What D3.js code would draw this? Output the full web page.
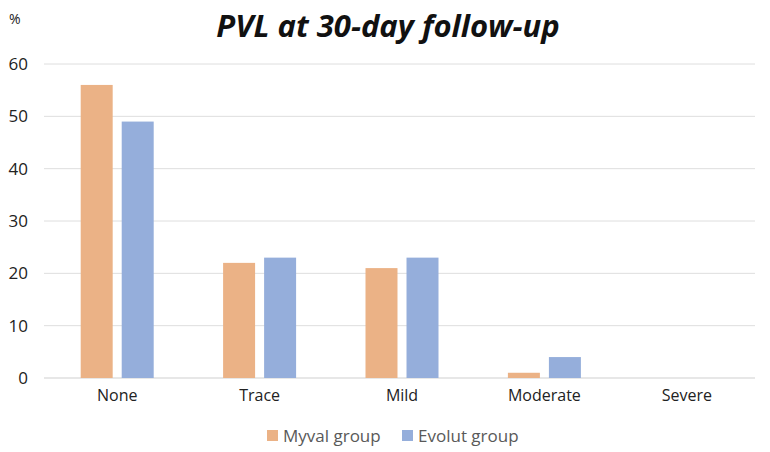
<!DOCTYPE html>
<html lang="en">
<head>
<meta charset="utf-8" />
<title>PVL at 30-day follow-up</title>
<script src="https://cdn.jsdelivr.net/npm/d3@7"></script>
<style>
    body { margin: 0; background: #fff; }
    svg text { font-family: "Open Sans", "Noto Sans", sans-serif; }
    .y-axis path, .y-axis line, .x-axis path, .x-axis line { stroke: none; }
    .y-axis text { font-size: 17px; fill: #222; }
    .x-axis text { font-size: 16px; fill: #222; }
</style>
</head>
<body>
<script>
    let categories = ['None', 'Trace', 'Mild', 'Moderate', 'Severe'];
    let series = ['Myval group', 'Evolut group'];
    let myval = [56, 22, 21, 1, 0];
    let evolut = [49, 23, 23, 4, 0];
    let yTicks = [0, 10, 20, 30, 40, 50, 60];
    let colors = ['#ebb286', '#95aedb'];

    let width = 770, height = 452;
    let margin = { top: 64, bottom: 74, left: 46, right: 12 };

    let svg = d3.select('body').append('svg')
        .attr('width', width)
        .attr('height', height);

    let x0 = d3.scaleBand()
        .domain(categories)
        .range([margin.left, width - margin.right]);

    let x1 = d3.scaleBand()
        .domain(series)
        .range([-36.5, 36.5])
        .paddingInner(0.22);

    let y = d3.scaleLinear()
        .domain([0, 60])
        .range([height - margin.bottom, margin.top]);

    // gridlines
    svg.append('g')
        .selectAll('line')
        .data(yTicks)
        .enter().append('line')
        .attr('x1', margin.left - 2)
        .attr('x2', width - margin.right - 3)
        .attr('y1', d => y(d))
        .attr('y2', d => y(d))
        .style('stroke', d => d === 0 ? '#cfcfcf' : '#dedede')
        .style('stroke-width', 1);

    svg.append('g')
        .attr('class', 'y-axis')
        .attr('transform', `translate(${margin.left - 18},0)`)
        .call(d3.axisLeft(y).tickValues(yTicks).tickSize(0).tickPadding(0));

    svg.append('g')
        .attr('class', 'x-axis')
        .attr('transform', `translate(0,${height - margin.bottom})`)
        .call(d3.axisBottom(x0).tickSize(0).tickPadding(12));

    // bars
    let values = [myval, evolut];
    let group = svg.selectAll('.cat')
        .data(categories)
        .enter().append('g')
        .attr('class', 'cat')
        .attr('transform', d => `translate(${x0(d) + x0.bandwidth() / 2},0)`);

    group.selectAll('rect')
        .data((d, i) => series.map((s, j) => ({ s: s, v: values[j][i], j: j })))
        .enter().append('rect')
        .attr('x', d => x1(d.s))
        .attr('width', x1.bandwidth())
        .attr('y', d => y(d.v))
        .attr('height', d => y(0) - y(d.v))
        .style('fill', d => colors[d.j]);

    // title and unit
    svg.append('text')
        .attr('x', 388)
        .attr('y', 37)
        .attr('text-anchor', 'middle')
        .style('font-size', '31px')
        .style('font-weight', 'bold')
        .style('font-style', 'italic')
        .style('fill', '#111')
        .text('PVL at 30-day follow-up');

    svg.append('text')
        .attr('x', 9)
        .attr('y', 24)
        .style('font-size', '14px')
        .style('fill', '#222')
        .text('%');

    // legend
    let legendX = [267, 402];
    let legend = svg.selectAll('.legend')
        .data(series)
        .enter().append('g')
        .attr('class', 'legend')
        .attr('transform', (d, i) => `translate(${legendX[i]},436)`);

    legend.append('rect')
        .attr('x', 0)
        .attr('y', -6)
        .attr('width', 11)
        .attr('height', 11)
        .style('fill', (d, i) => colors[i]);

    legend.append('text')
        .attr('x', 16)
        .attr('y', 6)
        .style('font-size', '17px')
        .style('fill', '#595959')
        .text(d => d);
</script>
</body>
</html>
